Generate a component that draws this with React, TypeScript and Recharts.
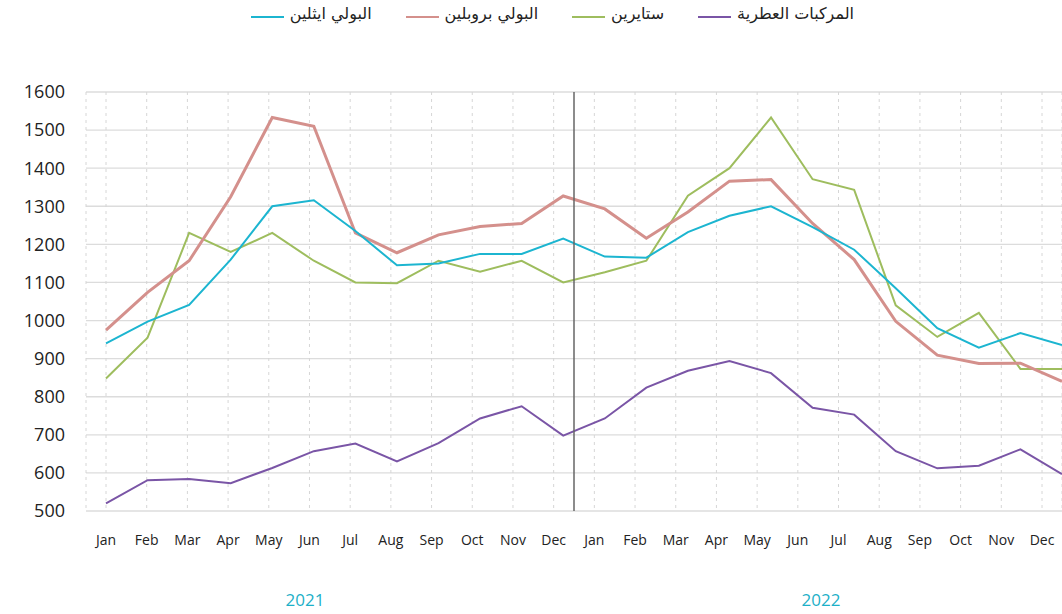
import {
  LineChart,
  Line,
  XAxis,
  YAxis,
  CartesianGrid,
  ReferenceLine,
} from "recharts";

const months = ["Jan", "Feb", "Mar", "Apr", "May", "Jun", "Jul", "Aug", "Sep", "Oct", "Nov", "Dec"];
const periods = [...months, ...months];
const years = ["2021", "2022"];
const yTicks = [500, 600, 700, 800, 900, 1000, 1100, 1200, 1300, 1400, 1500, 1600];

// البولي ايثلين
const polyethylene = [940, 997, 1041, 1160, 1300, 1316, 1235, 1145, 1150, 1175, 1175, 1215, 1168, 1165, 1232, 1275, 1300, 1245, 1186, 1085, 980, 929, 967, 936];
// البولي بروبلين
const polypropylene = [975, 1074, 1157, 1325, 1533, 1510, 1230, 1178, 1225, 1247, 1255, 1327, 1293, 1216, 1285, 1366, 1370, 1255, 1160, 998, 909, 887, 888, 840];
// ستايرين
const styrene = [848, 955, 1230, 1180, 1230, 1157, 1100, 1098, 1157, 1128, 1157, 1100, 1127, 1157, 1328, 1400, 1533, 1371, 1343, 1040, 957, 1020, 873, 873];
// المركبات العطرية
const aromatics = [520, 581, 584, 573, 613, 657, 677, 630, 678, 743, 775, 698, 743, 824, 868, 894, 862, 771, 753, 657, 612, 619, 662, 597];

const series = [
  { key: "ar", name: "المركبات العطرية", color: "#7a55a6", width: 2 },
  { key: "st", name: "ستايرين", color: "#9ebd5e", width: 2 },
  { key: "pp", name: "البولي بروبلين", color: "#d4908c", width: 3 },
  { key: "pe", name: "البولي ايثلين", color: "#1cb5d0", width: 2 },
];

const data = periods.map((month, i) => ({
  i,
  month,
  pe: polyethylene[i],
  pp: polypropylene[i],
  st: styrene[i],
  ar: aromatics[i],
}));

const tickIdx = periods.map((_, i) => i);
const minorIdx = periods.slice(1).map((_, i) => i + 0.5);

export default function App() {
  return (
    <div style={{ position: "absolute", left: 0, top: 0, width: 1062, height: 614, background: "#fff" }}>
      <div
        style={{
          position: "absolute",
          top: 4,
          right: 208,
          display: "flex",
          direction: "rtl",
          gap: 34,
          fontFamily: "'DejaVu Sans', sans-serif",
          fontSize: 16,
          color: "#222",
        }}
      >
        {series.map((s) => (
          <div key={s.key} style={{ display: "flex", alignItems: "flex-end", gap: 6 }}>
            <span>{s.name}</span>
            <span style={{ display: "inline-block", width: 33, height: 2, background: s.color, marginBottom: 5 }} />
          </div>
        ))}
      </div>

      <LineChart
        width={1062}
        height={614}
        data={data}
        margin={{ top: 92, right: 0, left: 0, bottom: 63 }}
        style={{ fontFamily: "'Open Sans', sans-serif" }}
      >
        <CartesianGrid xAxisId="ticks" vertical={false} stroke="#dcdcdc" strokeWidth={1.3} />
        <CartesianGrid xAxisId="ticks" horizontal={false} stroke="#d6d6d6" strokeDasharray="3 4" />
        <XAxis
          xAxisId="ticks"
          dataKey="i"
          type="number"
          domain={[0, 23]}
          ticks={tickIdx}
          interval={0}
          padding={{ left: 20, right: 20 }}
          tickFormatter={(v: number) => periods[v]}
          tick={{ fontSize: 14, fill: "#222" }}
          tickLine={false}
          axisLine={false}
          tickSize={0}
          tickMargin={24}
          height={40}
        />
        <XAxis
          xAxisId="data"
          dataKey="i"
          type="number"
          domain={[0, 23]}
          ticks={minorIdx}
          interval={0}
          padding={{ left: 20, right: 0 }}
          mirror
          tick={false}
          tickLine={{ stroke: "#d9d9d9" }}
          tickSize={8}
          axisLine={false}
        />
        <YAxis
          domain={[500, 1600]}
          ticks={yTicks}
          interval={0}
          width={86}
          tick={{ fontSize: 18, fill: "#222" }}
          tickLine={false}
          axisLine={false}
          tickSize={0}
          tickMargin={21}
        />
        {series.map((s) => (
          <Line
            key={s.key}
            xAxisId="data"
            dataKey={s.key}
            name={s.name}
            type="linear"
            stroke={s.color}
            strokeWidth={s.width}
            dot={false}
            isAnimationActive={false}
          />
        ))}
        <ReferenceLine xAxisId="ticks" x={11.5} stroke="#666" strokeWidth={1.5} />
      </LineChart>

      {years.map((y, k) => (
        <div
          key={y}
          style={{
            position: "absolute",
            top: 588,
            left: k === 0 ? 280 : 796,
            width: 50,
            textAlign: "center",
            fontFamily: "'Open Sans', sans-serif",
            fontSize: 17,
            color: "#1cb0c8",
          }}
        >
          {y}
        </div>
      ))}
    </div>
  );
}
